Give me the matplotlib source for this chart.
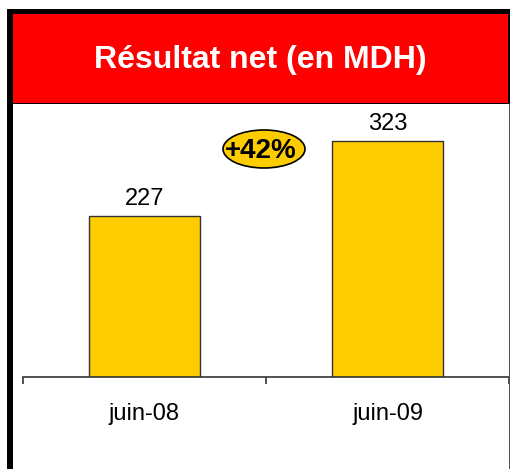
#!/usr/bin/env python3
"""
Résultat net (en MDH) - juin-08 vs juin-09
"""

import matplotlib
matplotlib.use('Agg')
import matplotlib.pyplot as plt
from matplotlib.patches import Rectangle, Ellipse

periodes = ['juin-08', 'juin-09']
resultat = [227, 323]
titre = 'Résultat net (en MDH)'
croissance = '+42%'

W, H = 511, 469
plt.rcParams['font.family'] = ['Liberation Sans', 'DejaVu Sans']


def fx(px):
    return px / W


def fy(py):
    return 1 - py / H


fig = plt.figure(figsize=(W / 100, H / 100), dpi=100)

# cadre + bandeau rouge
fig.add_artist(Rectangle((fx(7), fy(104)), fx(503), 95 / H, transform=fig.transFigure,
                         facecolor='black', edgecolor='none'))
fig.add_artist(Rectangle((fx(13), fy(103)), fx(495), 89 / H, transform=fig.transFigure,
                         facecolor='#FF0000', edgecolor='none'))
fig.add_artist(Rectangle((fx(7), 0), fx(6), fy(104), transform=fig.transFigure,
                         facecolor='black', edgecolor='none'))
fig.add_artist(Rectangle((fx(509), 0), fx(1.2), fy(104), transform=fig.transFigure,
                         facecolor='#555555', edgecolor='none'))
fig.text(fx(260), fy(60), titre, color='white', fontsize=23, fontweight='bold',
         ha='center', va='center')

# graphique
ax = fig.add_axes([fx(23), fy(377), fx(486), (377 - 104) / H])
ax.patch.set_alpha(0)
x = list(range(len(periodes)))
bars = ax.bar(x, resultat, width=0.457, color='#FFCC00', edgecolor='#333333', linewidth=1)
ax.set_xlim(-0.5, 1.5)
ax.set_ylim(21, 370)
for s in ['top', 'right', 'left']:
    ax.spines[s].set_visible(False)
ax.spines['bottom'].set_color('#333333')
ax.spines['bottom'].set_linewidth(1.2)
ax.set_yticks([])
ax.set_xticks([-0.5, 0.5, 1.5])
ax.set_xticklabels([])
ax.tick_params(axis='x', direction='out', length=5, width=1.2, color='#333333')

for xi, v, lab in zip(x, resultat, periodes):
    ax.annotate(str(v), (xi, v), xytext=(0, 7.5), textcoords='offset points',
                ha='center', va='baseline', fontsize=17)
    ax.annotate(lab, (xi, 0), xycoords=('data', 'axes fraction'), xytext=(0, -31),
                textcoords='offset points', ha='center', va='baseline', fontsize=17)

# bulle de croissance
fig.add_artist(Ellipse((fx(264), fy(149)), fx(82), 38 / H, transform=fig.transFigure,
                       facecolor='#FFCC00', edgecolor='black', linewidth=1.2))
fig.text(fx(261), fy(151), croissance, fontsize=20, fontweight='bold',
         ha='center', va='center')

fig.savefig('out.png', dpi=100)
